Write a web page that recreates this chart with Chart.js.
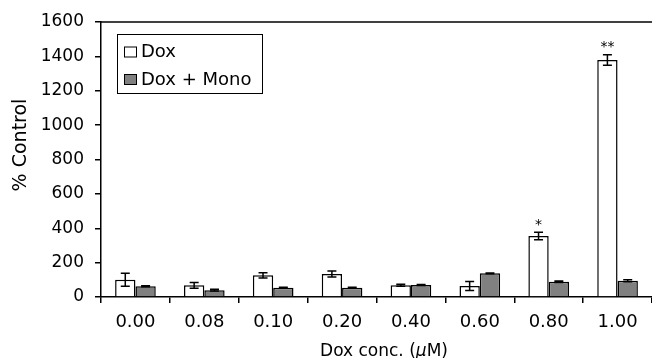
<!DOCTYPE html>
<html>
<head>
<meta charset="utf-8">
<script src="https://cdn.jsdelivr.net/npm/chart.js@4"></script>
<style>
    html, body { margin: 0; padding: 0; background: #fff; }
    canvas { display: block; }
</style>
</head>
<body>
<canvas id="doxChart" width="652" height="358"></canvas>
<script>
const DOSES = ['0.00', '0.08', '0.10', '0.20', '0.40', '0.60', '0.80', '1.00'];
const DOX = [100, 68, 126, 134, 68, 64, 355, 1379];
const DOX_ERR = [38, 17, 15, 17, 6, 26, 22, 30];
const MONO = [62, 40, 54, 54, 70, 138, 89, 95];
const MONO_ERR = [3, 5, 3, 3, 3, 2, 4, 6];
const SIGNIF = ['', '', '', '', '', '', '*', '**'];
const Y_TICKS = [0, 200, 400, 600, 800, 1000, 1200, 1400, 1600];

const FONT = 'DejaVu Sans';
const ERRORS = [DOX_ERR, MONO_ERR];

// error bars + significance stars
const errorBarPlugin = {
    id: 'errorBars',
    afterDatasetsDraw(chart) {
        const ctx = chart.ctx;
        const yScale = chart.scales.y;
        ctx.save();
        ctx.strokeStyle = '#000';
        ctx.lineWidth = 1.5;
        chart.data.datasets.forEach((ds, di) => {
            const meta = chart.getDatasetMeta(di);
            meta.data.forEach((bar, i) => {
                const v = ds.data[i];
                const e = ERRORS[di][i];
                const top = yScale.getPixelForValue(v + e);
                const bot = yScale.getPixelForValue(v - e);
                ctx.beginPath();
                ctx.moveTo(bar.x, top);
                ctx.lineTo(bar.x, bot);
                ctx.moveTo(bar.x - 4.5, top);
                ctx.lineTo(bar.x + 4.5, top);
                ctx.moveTo(bar.x - 4.5, bot);
                ctx.lineTo(bar.x + 4.5, bot);
                ctx.stroke();
                if (di === 0 && SIGNIF[i]) {
                    ctx.fillStyle = '#000';
                    ctx.font = '14px ' + FONT;
                    ctx.textAlign = 'center';
                    ctx.textBaseline = 'middle';
                    ctx.fillText(SIGNIF[i], bar.x, top - 7);
                }
            });
        });
        ctx.restore();
    }
};

// frame top line, axis titles, legend box
const decorPlugin = {
    id: 'decor',
    afterDraw(chart) {
        const ctx = chart.ctx;
        const area = chart.chartArea;
        ctx.save();
        ctx.strokeStyle = '#000';
        ctx.lineWidth = 1.5;
        ctx.beginPath();
        ctx.moveTo(area.left, area.top);
        ctx.lineTo(area.right, area.top);
        ctx.stroke();

        ctx.fillStyle = '#000';
        // y title
        ctx.save();
        ctx.translate(21, 145);
        ctx.rotate(-Math.PI / 2);
        ctx.font = '19px ' + FONT;
        ctx.textAlign = 'center';
        ctx.textBaseline = 'middle';
        ctx.fillText('% Control', 0, 0);
        ctx.restore();

        // x title with italic mu
        const parts = [
            ['Dox conc. (', '17px ' + FONT],
            ['\u03bc', 'italic 17px ' + FONT],
            ['M)', '17px ' + FONT]
        ];
        let total = 0;
        parts.forEach(p => { ctx.font = p[1]; total += ctx.measureText(p[0]).width; });
        let x = 384 - total / 2;
        ctx.textAlign = 'left';
        ctx.textBaseline = 'alphabetic';
        parts.forEach(p => {
            ctx.font = p[1];
            ctx.fillText(p[0], x, 356);
            x += ctx.measureText(p[0]).width;
        });

        // legend
        ctx.lineWidth = 1;
        ctx.strokeRect(117.5, 34.5, 145, 59);
        const rows = [[47, 57], [74.5, 84.5]];
        ctx.font = '18px ' + FONT;
        chart.data.datasets.forEach((ds, i) => {
            ctx.fillStyle = ds.backgroundColor;
            ctx.fillRect(124.5, rows[i][0], 12, 10);
            ctx.strokeRect(124.5, rows[i][0], 12, 10);
            ctx.fillStyle = '#000';
            ctx.fillText(ds.label, 141, rows[i][1]);
        });
        ctx.restore();
    }
};

new Chart(document.getElementById('doxChart'), {
    type: 'bar',
    data: {
        labels: DOSES,
        datasets: [
            { label: 'Dox', data: DOX, backgroundColor: '#ffffff', borderColor: '#000', borderWidth: 1.5 },
            { label: 'Dox + Mono', data: MONO, backgroundColor: '#808080', borderColor: '#000', borderWidth: 1.5 }
        ]
    },
    options: {
        responsive: false,
        animation: false,
        devicePixelRatio: 1,
        categoryPercentage: 0.59,
        barPercentage: 1.0,
        layout: { padding: { top: 22, right: 0, bottom: 0, left: 0 } },
        plugins: {
            legend: { display: false },
            tooltip: { enabled: false }
        },
        scales: {
            x: {
                grid: { offset: true, drawOnChartArea: false, drawTicks: true, tickLength: 6, color: '#000', lineWidth: 1.5 },
                border: { color: '#000', width: 1.5 },
                ticks: { color: '#000', font: { family: FONT, size: 18 }, padding: 9, maxRotation: 0 },
                afterFit: s => { s.height = 61; }
            },
            y: {
                min: 0,
                max: 1600,
                afterBuildTicks: s => { s.ticks = Y_TICKS.map(v => ({ value: v })); },
                grid: { drawOnChartArea: false, drawTicks: true, tickLength: 6, color: '#000', lineWidth: 1.5 },
                border: { color: '#000', width: 1.5 },
                ticks: { color: '#000', font: { family: FONT, size: 17 }, padding: 11, callback: v => String(v) },
                afterFit: s => { s.width = 101; }
            }
        }
    },
    plugins: [errorBarPlugin, decorPlugin]
});
</script>
</body>
</html>
